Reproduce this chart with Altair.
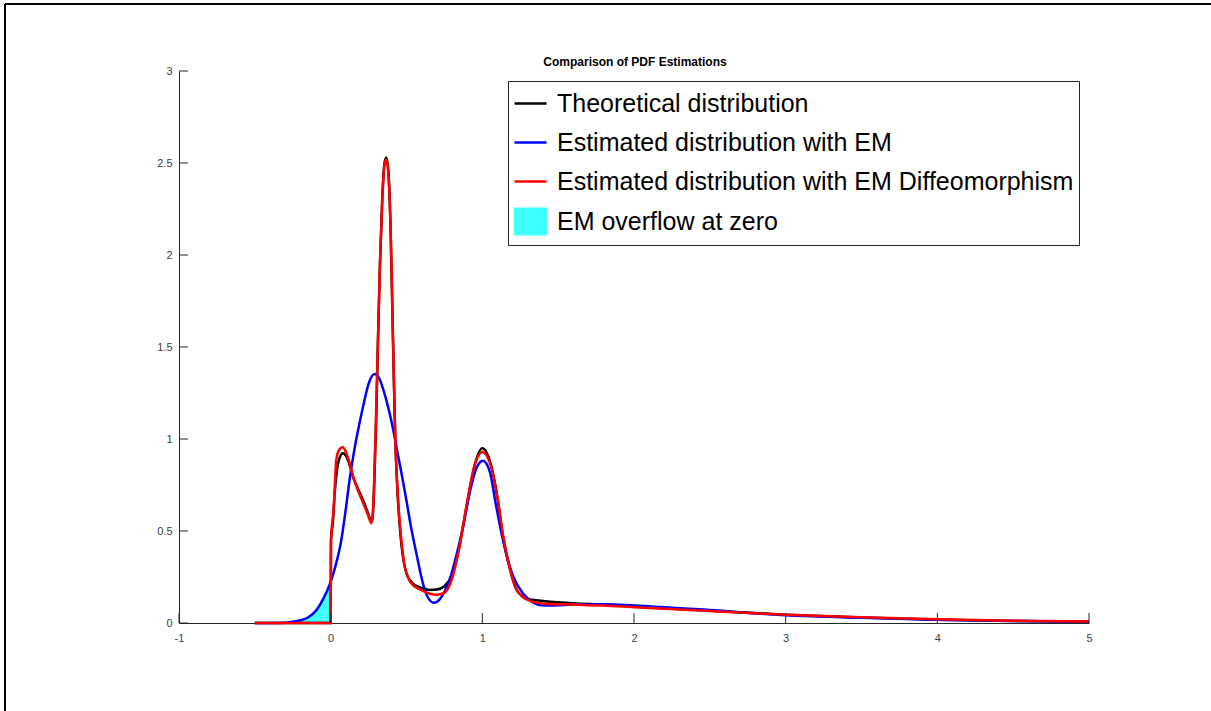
import altair as alt
import pandas as pd

# ---------------- data ----------------
black_x = [-0.5, 0.0, 0.002, 0.015, 0.026, 0.04, 0.06, 0.08, 0.10, 0.125, 0.147, 0.18, 0.213,
           0.24, 0.26, 0.272, 0.285, 0.30, 0.312, 0.325, 0.34, 0.355, 0.367, 0.38, 0.395, 0.411,
           0.426, 0.445, 0.466, 0.485, 0.50, 0.52, 0.55, 0.60, 0.65, 0.70, 0.75, 0.80, 0.85,
           0.872, 0.90, 0.95, 1.0, 1.05, 1.10, 1.136, 1.18, 1.22, 1.266, 1.30, 1.40, 1.60, 1.80,
           2.0, 2.5, 3.0, 3.5, 4.0, 4.5, 5.0]
black_y = [0.0, 0.0, 0.45, 0.55, 0.70, 0.82, 0.90, 0.922, 0.91, 0.86, 0.795, 0.73, 0.668,
           0.61, 0.565, 0.55, 0.70, 1.10, 1.54, 1.95, 2.30, 2.50, 2.53, 2.46, 2.15, 1.54,
           1.00, 0.65, 0.43, 0.32, 0.27, 0.235, 0.21, 0.19, 0.18, 0.182, 0.20, 0.26, 0.42,
           0.52, 0.65, 0.86, 0.95, 0.88, 0.68, 0.47, 0.30, 0.19, 0.143, 0.13, 0.12, 0.108, 0.10,
           0.09, 0.066, 0.045, 0.03, 0.018, 0.011, 0.007]

blue_x = [-0.5, -0.4, -0.3, -0.248, -0.2, -0.15, -0.094, -0.05, 0.0, 0.035, 0.07, 0.10, 0.125,
          0.16, 0.19, 0.22, 0.25, 0.29, 0.32, 0.35, 0.38, 0.41, 0.44, 0.47, 0.499, 0.53, 0.565,
          0.608, 0.64, 0.681, 0.72, 0.75, 0.784, 0.83, 0.872, 0.92, 0.96, 1.004, 1.05, 1.09,
          1.136, 1.20, 1.268, 1.32, 1.378, 1.45, 1.60, 1.80, 2.0, 2.5, 3.0, 3.5, 4.0, 4.5, 5.0]
blue_y = [0.0, 0.0002, 0.002, 0.007, 0.015, 0.03, 0.07, 0.13, 0.224, 0.32, 0.45, 0.62, 0.78,
          0.96, 1.085, 1.20, 1.30, 1.353, 1.33, 1.26, 1.17, 1.06, 0.93, 0.80, 0.668, 0.52, 0.379,
          0.216, 0.14, 0.11, 0.13, 0.17, 0.234, 0.37, 0.52, 0.72, 0.84, 0.882, 0.82, 0.64,
          0.45, 0.26, 0.16, 0.12, 0.098, 0.095, 0.10, 0.102, 0.095, 0.07, 0.042, 0.028, 0.018, 0.011, 0.008]

red_x = [-0.5, 0.0, 0.002, 0.02, 0.037, 0.055, 0.08, 0.10, 0.125, 0.15, 0.18, 0.213, 0.24, 0.26,
         0.268, 0.28, 0.295, 0.312, 0.325, 0.34, 0.355, 0.367, 0.38, 0.395, 0.411, 0.426, 0.445,
         0.466, 0.485, 0.50, 0.52, 0.55, 0.60, 0.65, 0.70, 0.75, 0.80, 0.85, 0.90, 0.95, 1.0,
         1.05, 1.10, 1.136, 1.18, 1.22, 1.27, 1.30, 1.40, 1.60, 1.80, 2.0, 2.5, 3.0, 3.5, 4.0, 4.5, 5.0]
red_y = [0.0, 0.0, 0.45, 0.62, 0.886, 0.94, 0.955, 0.93, 0.868, 0.79, 0.72, 0.655, 0.60, 0.555,
         0.542, 0.62, 1.00, 1.54, 1.95, 2.30, 2.49, 2.52, 2.45, 2.15, 1.54, 1.00, 0.66,
         0.45, 0.32, 0.27, 0.23, 0.20, 0.178, 0.16, 0.153, 0.165, 0.24, 0.42, 0.66, 0.86, 0.93,
         0.87, 0.68, 0.48, 0.30, 0.19, 0.14, 0.125, 0.105, 0.10, 0.095, 0.086, 0.065, 0.045, 0.031, 0.02, 0.012, 0.008]

x_ticks = [-1, 0, 1, 2, 3, 4, 5]
y_ticks = [0, 0.5, 1, 1.5, 2, 2.5, 3]

title_text = "Comparison of PDF Estimations"
legend_labels = ["Theoretical distribution",
                 "Estimated distribution with EM",
                 "Estimated distribution with EM Diffeomorphism",
                 "EM overflow at zero"]
legend_colors = ["#000000", "#0000FF", "#FF0000", "#40FFFF"]
# line entries are strokes; the fill entry is a wide patch (rectangle path)
legend_shapes = ["stroke", "stroke", "stroke", "M-0.95,-0.8H0.95V0.8H-0.95Z"]

# ---------------- tables ----------------
black = pd.DataFrame({"x": black_x, "y": black_y})
blue = pd.DataFrame({"x": blue_x, "y": blue_y})
red = pd.DataFrame({"x": red_x, "y": red_y})
fill = blue[blue["x"] <= 0].copy()
legend_df = pd.DataFrame({"series": legend_labels})
xt = pd.DataFrame({"t": x_ticks})
yt = pd.DataFrame({"t": y_ticks})

FONT = "Liberation Sans"
W, H = 910, 552

xs = alt.Scale(domain=[-1, 5], nice=False, zero=False)
ys = alt.Scale(domain=[0, 3], nice=False)

x_enc = alt.X("x:Q", scale=xs, axis=alt.Axis(values=x_ticks, labelExpr="'' + datum.value",
                                             title=None, grid=False,
                                             ticks=False, labelPadding=9, labelFontSize=11,
                                             labelFont=FONT, labelColor="#404040",
                                             domainColor="#262626", labelFlush=False))
y_enc = alt.Y("y:Q", scale=ys, axis=alt.Axis(values=y_ticks, labelExpr="'' + datum.value",
                                             title=None, grid=False,
                                             ticks=False, labelPadding=7, labelFontSize=11,
                                             labelFont=FONT, labelColor="#404040",
                                             domainColor="#262626", labelFlush=False))

area = alt.Chart(fill).mark_area(color="#40FFFF", opacity=1, interpolate="monotone").encode(
    x=x_enc, y=y_enc, y2=alt.datum(0))

def line(df, color):
    return alt.Chart(df).mark_line(color=color, strokeWidth=2.5, interpolate="monotone").encode(
        x=alt.X("x:Q", scale=xs), y=alt.Y("y:Q", scale=ys))

l_black = line(black, "#000000")
l_blue = line(blue, "#0000FF")
l_red = line(red, "#FF0000")

# inward ticks (MATLAB style)
ytick_layer = alt.Chart(yt).mark_rule(color="#262626", strokeWidth=1).encode(
    y=alt.Y("t:Q", scale=ys), x=alt.value(0), x2=alt.value(9))
xtick_layer = alt.Chart(xt).mark_rule(color="#262626", strokeWidth=1).encode(
    x=alt.X("t:Q", scale=xs), y=alt.value(H), y2=alt.value(H - 10))

# legend carrier (no visible marks)
legend_layer = alt.Chart(legend_df).transform_filter("false").mark_point(filled=True, opacity=1).encode(
    fill=alt.Fill("series:N", scale=alt.Scale(domain=legend_labels, range=legend_colors),
                  legend=alt.Legend(title=None)),
    stroke=alt.Stroke("series:N", scale=alt.Scale(domain=legend_labels, range=legend_colors),
                      legend=alt.Legend(title=None)),
    shape=alt.Shape("series:N", scale=alt.Scale(domain=legend_labels, range=legend_shapes),
                    legend=alt.Legend(title=None)),
)

# title as a text mark (placed just above the plot area)
title_layer = alt.Chart(pd.DataFrame({"t": [title_text]})).mark_text(
    font=FONT, fontSize=12, fontWeight="bold", color="#000000", align="center",
    baseline="alphabetic").encode(text="t:N", x=alt.value(W / 2 + 1), y=alt.value(-5))

# figure frame (top and left edges of the window)
frame_top = alt.Chart(pd.DataFrame({"a": [0]})).mark_rule(color="#000000", strokeWidth=2).encode(
    x=alt.value(-174), x2=alt.value(1211 - 179), y=alt.value(-67))
frame_left = alt.Chart(pd.DataFrame({"a": [0]})).mark_rule(color="#000000", strokeWidth=2).encode(
    x=alt.value(-174), y=alt.value(-67), y2=alt.value(711 - 71))

chart = alt.layer(area, l_black, l_blue, l_red, ytick_layer, xtick_layer, legend_layer,
                  title_layer, frame_top, frame_left).properties(
    width=W, height=H,
    background="#FFFFFF",
    autosize=alt.AutoSizeParams(type="none"),
    padding={"left": 179, "top": 71, "right": 1211 - 179 - W, "bottom": 711 - 71 - H},
).configure_view(stroke=None).configure_legend(
    orient="none", legendX=329, legendY=10,
    labelFont=FONT, labelFontSize=25, labelColor="#000000", labelLimit=0,
    symbolSize=1024, symbolStrokeWidth=2.5, symbolType="stroke", symbolOpacity=1,
    labelOffset=9, rowPadding=8, padding=5,
    strokeColor="#262626", strokeWidth=1, fillColor="#FFFFFF",
)

chart.save("out.html", embed_options={"renderer": "svg", "actions": False})
